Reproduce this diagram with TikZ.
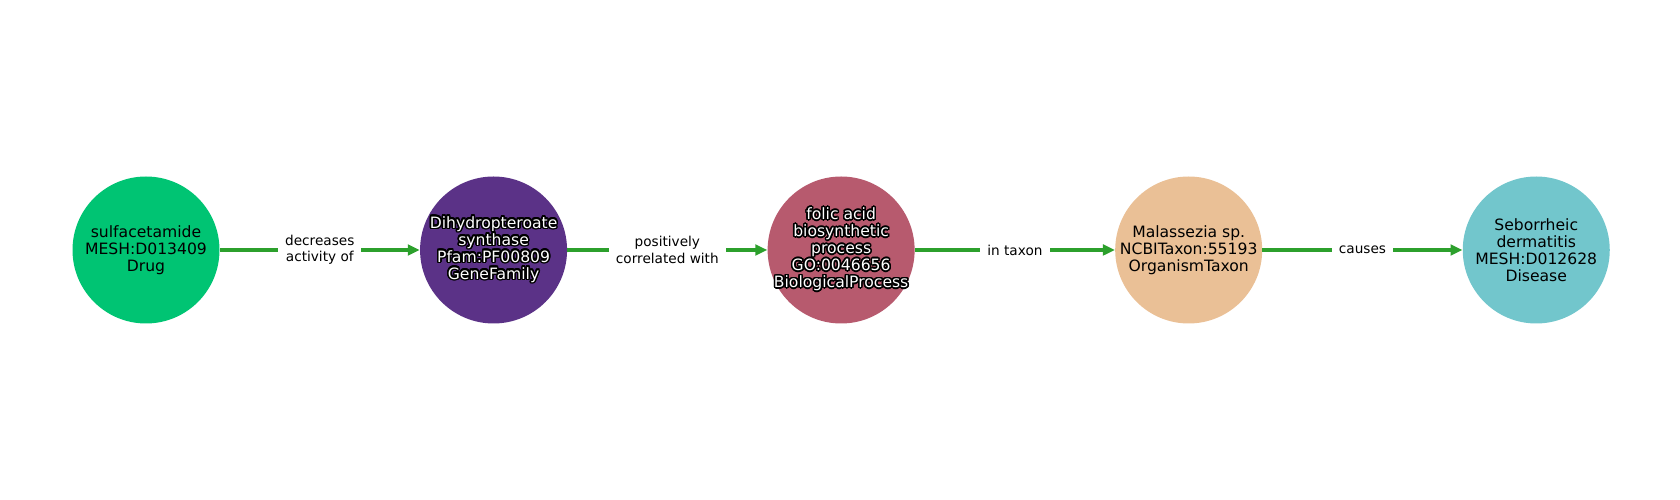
\documentclass[tikz,border=0pt]{standalone}
\usepackage{fontspec}
\setmainfont{DejaVu Sans}
\usepackage{contour}
\contourlength{1.1pt}
\usetikzlibrary{arrows.meta,positioning}

\definecolor{drugcol}{RGB}{0,196,115}
\definecolor{genecol}{RGB}{91,50,135}
\definecolor{proccol}{RGB}{183,90,110}
\definecolor{taxoncol}{RGB}{234,192,150}
\definecolor{diseasecol}{RGB}{114,198,204}
\definecolor{edgegreen}{RGB}{44,160,44}

\newcommand{\ol}[1]{\contour{black}{#1}}

\tikzset{
  entity/.style={circle, minimum size=3.675cm, inner sep=0pt},
  entlbl/.style={align=center, inner sep=0pt, font=\fontsize{11.1}{12.1}\selectfont},
  darklbl/.style={entlbl, text=white},
  rel/.style={draw=edgegreen, line width=3pt, -{Triangle[length=8.5pt,width=7.5pt]}},
  rellbl/.style={fill=white, inner xsep=5pt, inner ysep=1pt, align=center,
    text=black, font=\fontsize{9.7}{11.5}\selectfont}
}

\begin{document}
\begin{tikzpicture}[node distance=5cm]
  \useasboundingbox (0,0) rectangle (42,12.5);
  % Entities
  \node[entity, fill=drugcol] (drug) at (3.65,6.25) {};
  \node[entity, fill=genecol, right=of drug] (gene) {};
  \node[entity, fill=proccol, right=of gene] (proc) {};
  \node[entity, fill=taxoncol, right=of proc] (taxon) {};
  \node[entity, fill=diseasecol, right=of taxon] (disease) {};
  % Entity labels
  \node[entlbl] (drug-t) at (drug) {sulfacetamide\\MESH:D013409\\Drug};
  \node[darklbl] (gene-t) at (gene)
    {\ol{Dihydropteroate}\\\ol{synthase}\\\ol{Pfam:PF00809}\\\ol{GeneFamily}};
  \node[darklbl] (proc-t) at (proc)
    {\ol{folic acid}\\\ol{biosynthetic}\\\ol{process}\\\ol{GO:0046656}\\\ol{BiologicalProcess}};
  \node[entlbl] (taxon-t) at (taxon) {Malassezia sp.\\NCBITaxon:55193\\OrganismTaxon};
  \node[entlbl] (disease-t) at (disease) {Seborrheic\\dermatitis\\MESH:D012628\\Disease};
  % Relations
  \draw[rel] (drug) -- node[rellbl] (lbl1) {decreases\\activity of} (gene);
  \draw[rel] (gene) -- node[rellbl] (lbl2) {positively\\correlated with} (proc);
  \draw[rel] (proc) -- node[rellbl] (lbl3) {in taxon} (taxon);
  \draw[rel] (taxon) -- node[rellbl] (lbl4) {causes} (disease);
\end{tikzpicture}
\end{document}
